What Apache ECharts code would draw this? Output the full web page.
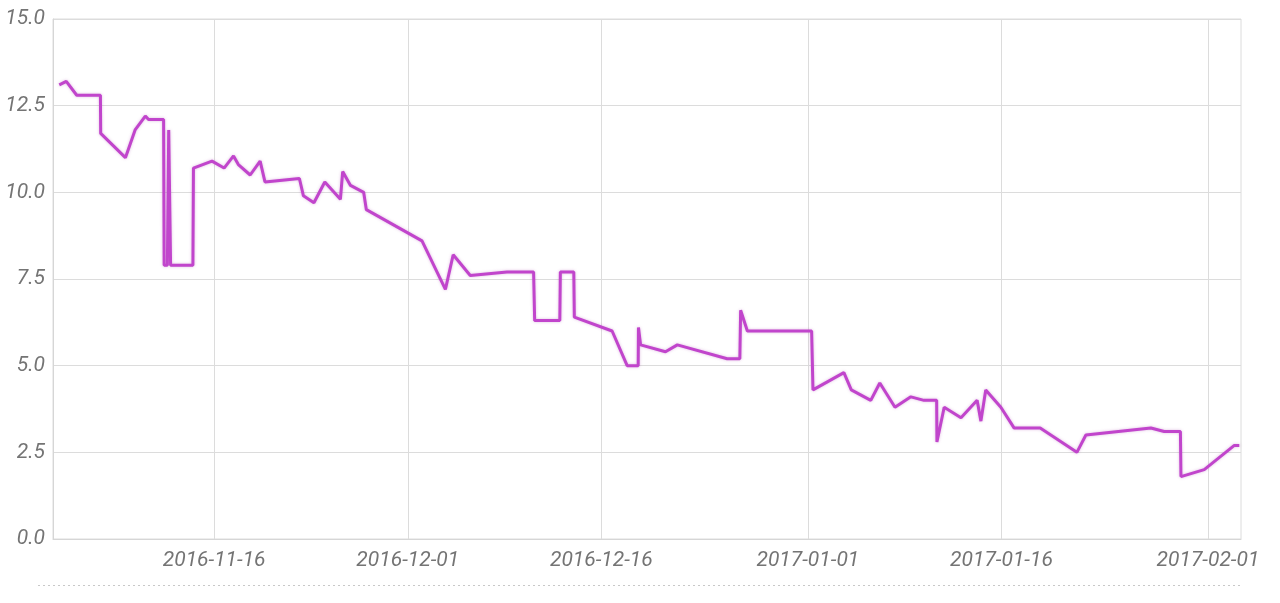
<!DOCTYPE html>
<html>
<head>
<meta charset="utf-8">
<script src="https://cdn.jsdelivr.net/npm/echarts@6/dist/echarts.min.js"></script>
<style>
html,body{margin:0;padding:0;background:#fff;}
#chart{width:1280px;height:603px;}
</style>
</head>
<body>
<div id="chart"></div>
<script>
// ---- data ----
const dates = [
  '2016-11-04 00:00','2016-11-04 13:00','2016-11-05 08:30','2016-11-07 04:30','2016-11-07 05:00',
  '2016-11-09 03:00','2016-11-09 21:00','2016-11-10 16:00','2016-11-10 22:00','2016-11-12 02:00',
  '2016-11-12 03:00','2016-11-12 09:00','2016-11-12 11:30','2016-11-12 15:00','2016-11-14 08:30',
  '2016-11-14 09:30','2016-11-15 20:00','2016-11-16 18:30','2016-11-17 12:00','2016-11-17 21:00',
  '2016-11-18 19:00','2016-11-19 13:30','2016-11-19 22:30','2016-11-22 14:30','2016-11-22 22:00',
  '2016-11-23 17:30','2016-11-24 13:45','2016-11-25 18:45','2016-11-25 23:00','2016-11-26 13:30',
  '2016-11-27 14:00','2016-11-27 19:00','2016-12-02 02:30','2016-12-03 22:00','2016-12-04 12:30',
  '2016-12-05 20:15','2016-12-08 16:30','2016-12-10 18:00','2016-12-10 20:00','2016-12-12 18:45',
  '2016-12-12 19:45','2016-12-13 20:45','2016-12-13 21:45','2016-12-16 20:00','2016-12-18 00:00',
  '2016-12-18 20:30','2016-12-18 21:00','2016-12-19 01:00','2016-12-20 23:15','2016-12-21 21:15',
  '2016-12-25 18:00','2016-12-26 17:30','2016-12-26 19:00','2016-12-27 07:30','2017-01-01 07:00',
  '2017-01-01 09:30','2017-01-03 19:00','2017-01-04 08:45','2017-01-05 21:00','2017-01-06 13:45',
  '2017-01-07 18:00','2017-01-08 23:30','2017-01-10 00:00','2017-01-10 23:30','2017-01-11 00:00',
  '2017-01-11 13:30','2017-01-12 20:45','2017-01-14 02:45','2017-01-14 09:45','2017-01-14 18:45',
  '2017-01-15 22:50','2017-01-16 23:40','2017-01-19 00:00','2017-01-21 20:15','2017-01-22 13:00',
  '2017-01-27 13:50','2017-01-28 14:40','2017-01-29 20:45','2017-01-29 21:45','2017-01-31 17:05',
  '2017-02-03 01:00','2017-02-03 10:15'
];
const values = [
  13.1,13.2,12.8,12.8,11.7,
  11.0,11.8,12.2,12.1,12.1,
  7.9,7.9,11.8,7.9,7.9,
  10.7,10.9,10.7,11.05,10.8,
  10.5,10.9,10.3,10.4,9.9,
  9.7,10.3,9.8,10.6,10.2,
  10.0,9.5,8.6,7.2,8.2,
  7.6,7.7,7.7,6.3,6.3,
  7.7,7.7,6.4,6.0,5.0,
  5.0,6.1,5.6,5.4,5.6,
  5.2,5.2,6.6,6.0,6.0,
  4.3,4.8,4.3,4.0,4.5,
  3.8,4.1,4.0,4.0,2.8,
  3.8,3.5,4.0,3.4,4.3,
  3.8,3.2,3.2,2.5,3.0,
  3.2,3.1,3.1,1.8,2.0,
  2.7,2.7
];
const xTickLabels = ['2016-11-16','2016-12-01','2016-12-16','2017-01-01','2017-01-16','2017-02-01'];
const xRange = ['2016-11-03 12:20','2017-02-03 13:25'];
const yTicks = [0, 2.5, 5, 7.5, 10, 12.5, 15];

// ---- helpers ----
function parseLocal(s){
  const m = s.match(/(\d+)-(\d+)-(\d+)(?:\s+(\d+):(\d+))?/);
  return new Date(+m[1], +m[2]-1, +m[3], m[4]?+m[4]:0, m[5]?+m[5]:0).getTime();
}
function pad(n){return n<10?'0'+n:''+n;}
function fmt(t){const d=new Date(t);return d.getFullYear()+'-'+pad(d.getMonth()+1)+'-'+pad(d.getDate());}

const seriesData = dates.map((d,i)=>[parseLocal(d), values[i]]);
const tickVals = xTickLabels.map(parseLocal);

const chart = echarts.init(document.getElementById('chart'), null, {renderer:'canvas'});
const labelStyle = {fontFamily:'Roboto', fontStyle:'italic', fontSize:21, color:'#747474'};
chart.setOption({
  animation:false,
  grid:{left:53, right:39, top:19, bottom:64, show:true, borderColor:'#dcdcdc', borderWidth:1},
  xAxis:{
    type:'value',
    min:parseLocal(xRange[0]), max:parseLocal(xRange[1]),
    axisLine:{show:true, lineStyle:{color:'#d6d6d6', width:1}},
    axisTick:{show:false, customValues:tickVals},
    axisLabel:Object.assign({customValues:tickVals, margin:11, formatter:(v)=>fmt(v), hideOverlap:false}, labelStyle),
    splitLine:{show:true, lineStyle:{color:'#dcdcdc', width:1}}
  },
  yAxis:{
    type:'value', min:0, max:15, interval:2.5,
    axisLine:{show:true, lineStyle:{color:'#d6d6d6', width:1}},
    axisTick:{show:false},
    axisLabel:Object.assign({margin:8, customValues:yTicks, formatter:(v)=>v.toFixed(1)}, labelStyle),
    splitLine:{show:true, lineStyle:{color:'#dcdcdc', width:1}}
  },
  series:[{
    type:'line', data:seriesData, showSymbol:false, smooth:false,
    lineStyle:{color:'#c145cc', width:3, shadowColor:'rgba(160,60,170,0.35)', shadowBlur:3},
    itemStyle:{color:'#c145cc'}
  }],
  graphic:[{
    type:'line', shape:{x1:38, y1:585.5, x2:1240, y2:585.5},
    style:{stroke:'#c8c8c8', lineWidth:1, lineDash:[2,3]}, silent:true
  }]
});
</script>
</body>
</html>
